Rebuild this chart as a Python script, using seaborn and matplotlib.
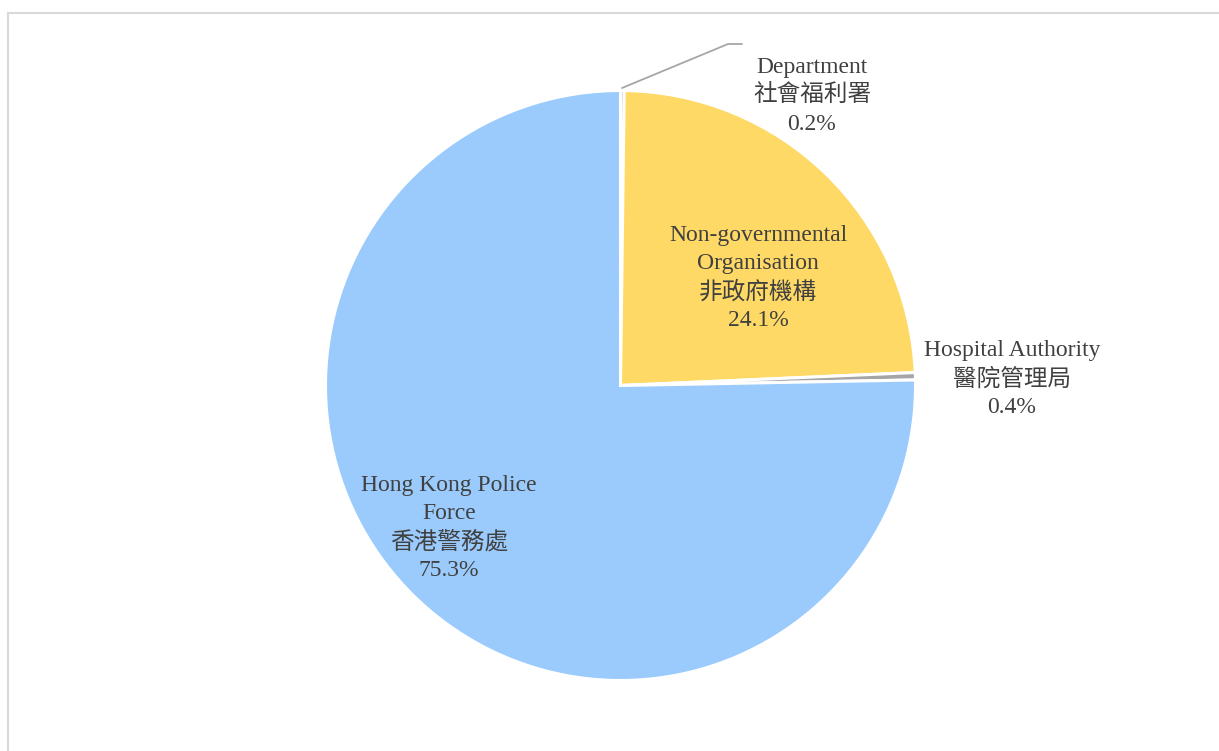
import matplotlib
matplotlib.use("Agg")
import matplotlib.pyplot as plt
import seaborn as sns
from matplotlib.patches import Rectangle

# Data (clockwise from 12 o'clock)
labels_en = ["Department", "Non-governmental\nOrganisation", "Hospital Authority", "Hong Kong Police\nForce"]
labels_zh = ["社會福利署", "非政府機構", "醫院管理局", "香港警務處"]
shares = [0.2, 24.1, 0.4, 75.3]
colors = ["#A5A5A5", "#FFD966", "#A5A5A5", "#9BCBFD"]

sns.set_theme(style="white")
plt.rcParams["font.family"] = ["Liberation Serif", "Noto Sans CJK TC", "DejaVu Sans"]

W, H = 1219, 751
fig = plt.figure(figsize=(W / 100, H / 100), dpi=100)
ax = fig.add_axes([0, 0, 1, 1])

# chart frame (cropped at right and bottom)
ax.add_patch(Rectangle((7.5, -20), W + 40, H - 12.5 + 20, fill=False,
                       edgecolor="#D9D9D9", linewidth=1.5))

cx, cy, r = 620.5, H - 385.5, 295
wedges, _ = ax.pie(shares, colors=colors, startangle=90, counterclock=False,
                   center=(cx, cy), radius=r, frame=True,
                   wedgeprops=dict(edgecolor="white", linewidth=2.2))
ax.set_xlim(0, W)
ax.set_ylim(0, H)
ax.set_aspect("equal")
ax.axis("off")

# label positions (pixel centres of the text blocks)
label_pos = [(812, 96), (758, 278), (1012, 379), (449, 528)]
for en, zh, v, (x, y) in zip(labels_en, labels_zh, shares, label_pos):
    ax.text(x, H - y, f"{en}\n{zh}\n{v:.1f}%", ha="center", va="center",
            fontsize=17, color="#404040", linespacing=1.4)

# leader line for the Social Welfare Department slice
ax.plot([622, 728, 742], [H - 88, H - 44, H - 44], color="#A6A6A6", linewidth=1.3)

fig.savefig("out.png", dpi=100)
